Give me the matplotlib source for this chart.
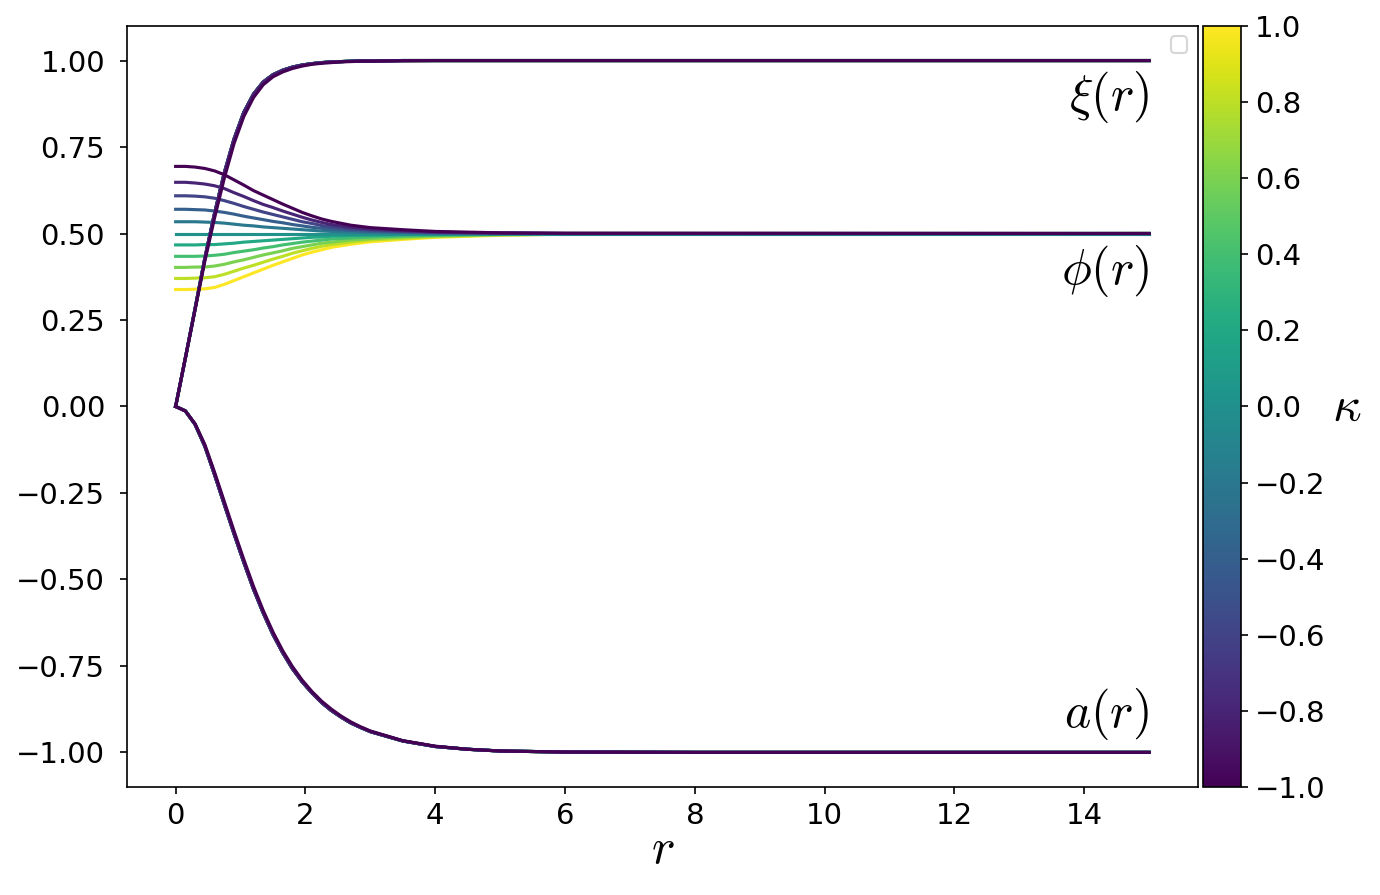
import numpy as np
import matplotlib
matplotlib.use("Agg")
import matplotlib.pyplot as plt

plt.rcParams['mathtext.fontset'] = 'cm'

# coupling values (one curve per value)
kappas = [-1.0, -0.8, -0.6, -0.4, -0.2, 0.0, 0.2, 0.4, 0.6, 0.8, 1.0]

# radial grid for xi(r) and a(r)
r_fine = [0, 0.15, 0.3, 0.45, 0.6, 0.75, 0.9, 1.05, 1.2, 1.35, 1.5, 1.65, 1.8, 1.95,
          2.1, 2.25, 2.4, 2.55, 2.7, 2.85, 3.0, 3.5, 4.0, 4.5, 5.0, 6.0, 8.0, 15.0]

# xi(r): kappa = -1 sits slightly to the right of the others
xi_outer = [0, 0.14, 0.28, 0.42, 0.545, 0.66, 0.76, 0.838, 0.893, 0.93, 0.953, 0.967, 0.977, 0.984,
            0.989, 0.992, 0.994, 0.996, 0.997, 0.998, 0.998, 0.999, 1.0, 1.0, 1.0, 1.0, 1.0, 1.0]
xi_inner = [0, 0.14, 0.283, 0.428, 0.558, 0.675, 0.773, 0.85, 0.903, 0.938, 0.959, 0.972, 0.981, 0.987,
            0.991, 0.994, 0.996, 0.997, 0.998, 0.999, 0.999, 1.0, 1.0, 1.0, 1.0, 1.0, 1.0, 1.0]

# a(r)
a_outer = [0, -0.013, -0.05, -0.11, -0.19, -0.275, -0.36, -0.442, -0.52, -0.59, -0.652, -0.706, -0.752, -0.791,
           -0.824, -0.852, -0.875, -0.895, -0.912, -0.926, -0.938, -0.966, -0.982, -0.991, -0.996, -0.999, -1.0, -1.0]
a_inner = [0, -0.013, -0.052, -0.115, -0.197, -0.283, -0.368, -0.45, -0.528, -0.597, -0.659, -0.712, -0.758, -0.796,
           -0.828, -0.856, -0.879, -0.898, -0.915, -0.928, -0.94, -0.967, -0.983, -0.991, -0.996, -0.999, -1.0, -1.0]

# phi(r), one row per kappa
r_phi = [0, 0.15, 0.3, 0.45, 0.6, 0.75, 0.9, 1.05, 1.2, 1.35, 1.5, 1.65, 1.8, 1.95,
         2.1, 2.25, 2.4, 2.7, 3.0, 3.5, 4.0, 5.0, 6.0, 15.0]
phi_rows = [
    [0.694, 0.694, 0.692, 0.688, 0.681, 0.670, 0.655, 0.640, 0.624, 0.611, 0.598, 0.585, 0.573, 0.561,
     0.551, 0.542, 0.535, 0.524, 0.517, 0.511, 0.506, 0.502, 0.501, 0.500],
    [0.648, 0.648, 0.646, 0.643, 0.638, 0.630, 0.618, 0.607, 0.595, 0.584, 0.575, 0.565, 0.556, 0.547,
     0.539, 0.532, 0.526, 0.518, 0.513, 0.508, 0.504, 0.501, 0.500, 0.500],
    [0.609, 0.609, 0.608, 0.606, 0.602, 0.595, 0.587, 0.578, 0.570, 0.562, 0.555, 0.548, 0.541, 0.534,
     0.529, 0.523, 0.519, 0.513, 0.510, 0.506, 0.503, 0.501, 0.500, 0.500],
    [0.570, 0.570, 0.569, 0.568, 0.565, 0.561, 0.556, 0.550, 0.545, 0.540, 0.535, 0.531, 0.526, 0.522,
     0.518, 0.515, 0.512, 0.509, 0.506, 0.504, 0.502, 0.501, 0.500, 0.500],
    [0.534, 0.534, 0.534, 0.533, 0.532, 0.530, 0.527, 0.524, 0.522, 0.519, 0.517, 0.515, 0.513, 0.511,
     0.509, 0.507, 0.506, 0.504, 0.503, 0.502, 0.501, 0.500, 0.500, 0.500],
    [0.500, 0.500, 0.500, 0.500, 0.500, 0.500, 0.500, 0.500, 0.500, 0.500, 0.500, 0.500, 0.500, 0.500,
     0.500, 0.500, 0.500, 0.500, 0.500, 0.500, 0.500, 0.500, 0.500, 0.500],
    [0.467, 0.467, 0.467, 0.468, 0.468, 0.470, 0.472, 0.475, 0.477, 0.479, 0.481, 0.483, 0.485, 0.487,
     0.489, 0.490, 0.492, 0.494, 0.495, 0.497, 0.498, 0.499, 0.500, 0.500],
    [0.434, 0.434, 0.434, 0.435, 0.437, 0.440, 0.445, 0.449, 0.453, 0.458, 0.462, 0.467, 0.471, 0.475,
     0.478, 0.481, 0.484, 0.487, 0.490, 0.493, 0.495, 0.498, 0.499, 0.500],
    [0.402, 0.402, 0.403, 0.403, 0.406, 0.411, 0.418, 0.424, 0.431, 0.438, 0.444, 0.450, 0.457, 0.462,
     0.467, 0.472, 0.475, 0.481, 0.485, 0.490, 0.493, 0.497, 0.499, 0.500],
    [0.370, 0.370, 0.371, 0.372, 0.375, 0.382, 0.391, 0.400, 0.408, 0.417, 0.426, 0.434, 0.443, 0.450,
     0.457, 0.463, 0.468, 0.475, 0.481, 0.486, 0.491, 0.496, 0.498, 0.500],
    [0.338, 0.338, 0.339, 0.340, 0.344, 0.353, 0.364, 0.375, 0.386, 0.397, 0.408, 0.418, 0.428, 0.438,
     0.446, 0.453, 0.460, 0.469, 0.476, 0.483, 0.489, 0.495, 0.498, 0.500],
]

fig = plt.figure(figsize=(9.2, 5.9667), dpi=150)
ax = fig.add_axes([0.092, 0.1207, 0.776, 0.8503])
cax = fig.add_axes([0.8715, 0.1207, 0.0275, 0.8503])

cmap = plt.get_cmap('viridis')
norm = matplotlib.colors.Normalize(vmin=-1, vmax=1)

# yellow first so the purple curves end up on top
for i in reversed(range(len(kappas))):
    k = kappas[i]
    c = cmap(norm(k))
    xi = xi_outer if i == 0 else xi_inner
    a = a_outer if i == 0 else a_inner
    ax.plot(r_fine, xi, color=c, lw=1.5)
    ax.plot(r_phi, phi_rows[i], color=c, lw=1.5)
    ax.plot(r_fine, a, color=c, lw=1.5)

ax.set_xlim(-0.75, 15.75)
ax.set_ylim(-1.1, 1.1)
ax.tick_params(labelsize=14)
ax.tick_params(axis='y', pad=7)
ax.set_xlabel(r'$r$', fontsize=24, labelpad=-2)

ax.text(15, 0.975, r'$\xi(r)$', fontsize=24, ha='right', va='top')
ax.text(15, 0.472, r'$\phi(r)$', fontsize=24, ha='right', va='top')
ax.text(15, -0.97, r'$a(r)$', fontsize=24, ha='right', va='bottom')

ax.legend(loc='upper right')

sm = matplotlib.cm.ScalarMappable(norm=norm, cmap=cmap)
sm.set_array([])
cb = fig.colorbar(sm, cax=cax, ticks=np.arange(-1.0, 1.01, 0.2))
cb.ax.tick_params(labelsize=14)
cb.set_label(r'$\kappa$', fontsize=24, rotation=0, labelpad=10, va='center')

fig.savefig('out.png', dpi=150)
